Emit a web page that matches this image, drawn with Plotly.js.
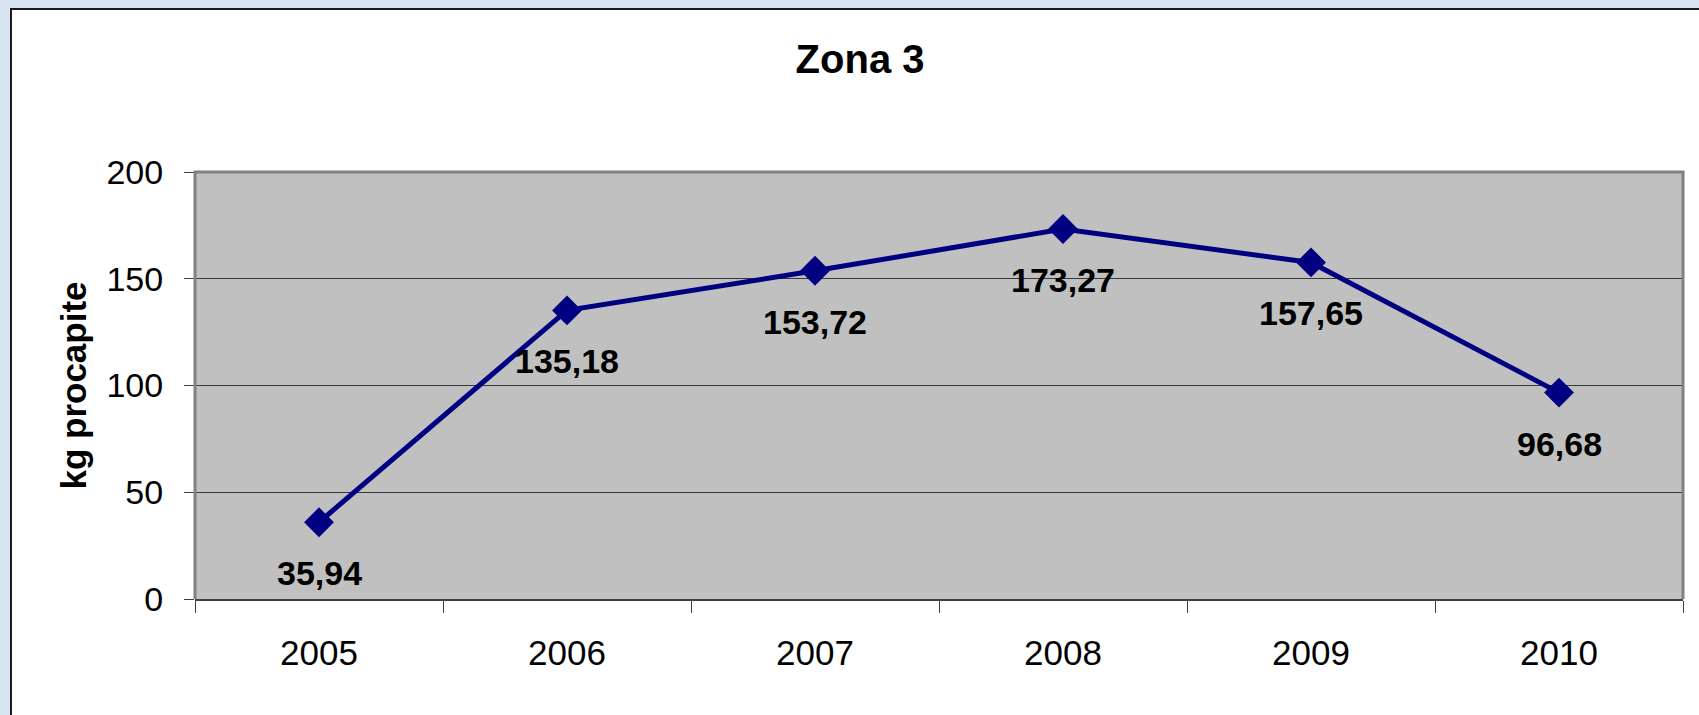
<!DOCTYPE html>
<html>
<head>
<meta charset="utf-8">
<script src="https://cdn.plot.ly/plotly-3.0.1.min.js"></script>
<style>
  html, body { margin: 0; padding: 0; width: 1699px; height: 715px; overflow: hidden; background: #d8e4f2; }
  #frame { position: absolute; left: 10px; top: 8px; width: 1687px; height: 705px; border-left: 2px solid #1a1a1a; border-top: 2px solid #1a1a1a; background: #ffffff; }
  #chart { width: 1687px; height: 705px; }
</style>
</head>
<body>
<div id="frame"><div id="chart"></div></div>
<script>
const years = ['2005', '2006', '2007', '2008', '2009', '2010'];
const kgProcapite = [35.94, 135.18, 153.72, 173.27, 157.65, 96.68];
const yTicks = [0, 50, 100, 150, 200];
const chartTitle = 'Zona 3';
const yTitle = 'kg procapite';

const FONT = '"Liberation Sans", Arial, sans-serif';
const NAVY = '#000080';

const trace = {
  type: 'scatter',
  mode: 'lines+markers',
  x: years,
  y: kgProcapite,
  line: { color: NAVY, width: 5 },
  marker: { symbol: 'diamond', size: 23, color: NAVY },
  hoverinfo: 'skip',
  showlegend: false
};

// category axis: annotation x given as category index
const labels = years.map((yr, i) => ({
  x: i,
  y: kgProcapite[i],
  xref: 'x', yref: 'y',
  text: '<b>' + kgProcapite[i].toFixed(2).replace('.', ',') + '</b>',
  showarrow: false,
  yshift: -51,
  xanchor: 'center', yanchor: 'middle',
  font: { family: FONT, size: 34, color: '#000000' }
}));

const layout = {
  width: 1687,
  height: 705,
  margin: { l: 183, r: 16, t: 162, b: 116 },
  paper_bgcolor: '#ffffff',
  plot_bgcolor: '#c0c0c0',
  font: { family: FONT, color: '#000000' },
  title: {
    text: '<b>' + chartTitle + '</b>',
    font: { family: FONT, size: 40, color: '#000000' },
    xref: 'container', yref: 'container',
    x: 0.5027, y: 0.9305, xanchor: 'center', yanchor: 'middle'
  },
  xaxis: {
    type: 'category',
    range: [-0.5, years.length - 0.5],
    tickson: 'boundaries',
    ticks: 'outside', ticklen: 12, tickwidth: 1, tickcolor: '#404040',
    showline: true, linecolor: '#404040', linewidth: 2,
    showgrid: false, zeroline: false,
    tickfont: { family: FONT, size: 35, color: '#000000' },
    ticklabelstandoff: 22,
    fixedrange: true
  },
  yaxis: {
    range: [0, 200],
    tickvals: yTicks,
    ticktext: yTicks.map(String),
    ticks: 'outside', ticklen: 10, tickwidth: 1, tickcolor: '#404040',
    showline: false,
    showgrid: true, gridcolor: '#383838', gridwidth: 1,
    zeroline: false,
    tickfont: { family: FONT, size: 34, color: '#000000' },
    ticklabelstandoff: 14,
    title: { text: '<b>' + yTitle + '</b>', font: { family: FONT, size: 35, color: '#000000' }, standoff: 9 },
    fixedrange: true
  },
  shapes: [{
    type: 'path', xref: 'paper', yref: 'paper',
    path: 'M0,0 L0,1 L1,1 L1,0',
    line: { color: '#808080', width: 3 }
  }],
  annotations: labels
};

Plotly.newPlot('chart', [trace], layout, { displayModeBar: false, staticPlot: true });
</script>
</body>
</html>
